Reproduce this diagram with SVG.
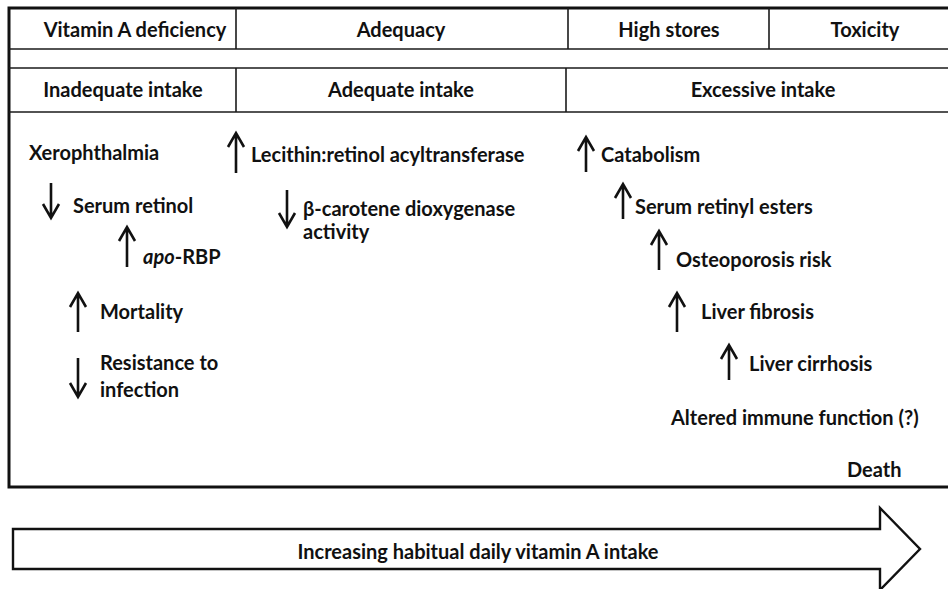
<svg xmlns="http://www.w3.org/2000/svg" width="948" height="589" viewBox="0 0 948 589">
<style>
text{font-family:Lato,"Open Sans","Liberation Sans",sans-serif;font-weight:bold;font-size:20px;fill:#111}
.c{text-anchor:middle}
.ln{stroke:#1a1a1a;stroke-width:1.6;fill:none}
.bx{stroke:#111;stroke-width:3;fill:#fff}
.ar{stroke:#111;stroke-width:2.6;fill:none;stroke-linejoin:miter}
.big{stroke:#111;stroke-width:2.4;fill:#fff;stroke-linejoin:miter}
</style>
<rect width="948" height="589" fill="#fff"/>
<g id="table">
<rect class="bx" x="9" y="8" width="960" height="479"/>
<line class="ln" x1="9" y1="49" x2="948" y2="49"/>
<line class="ln" x1="9" y1="68" x2="948" y2="68"/>
<line class="ln" x1="9" y1="112" x2="948" y2="112"/>
<line class="ln" x1="236" y1="8" x2="236" y2="49"/>
<line class="ln" x1="568" y1="8" x2="568" y2="49"/>
<line class="ln" x1="769" y1="8" x2="769" y2="49"/>
<line class="ln" x1="236" y1="68" x2="236" y2="112"/>
<line class="ln" x1="566" y1="68" x2="566" y2="112"/>
</g>
<g id="h-deficiency"><text class="c" x="135" y="37">Vitamin A deficiency</text></g>
<g id="h-adequacy"><text class="c" x="401" y="37">Adequacy</text></g>
<g id="h-highstores"><text class="c" x="669" y="37">High stores</text></g>
<g id="h-toxicity"><text class="c" x="865" y="37">Toxicity</text></g>
<g id="h-inadequate"><text class="c" x="123" y="97">Inadequate intake</text></g>
<g id="h-adequate"><text class="c" x="401" y="97">Adequate intake</text></g>
<g id="h-excessive"><text class="c" x="763" y="97">Excessive intake</text></g>
<g id="xerophthalmia"><text x="29" y="160">Xerophthalmia</text></g>
<g id="serum-retinol">
<path class="ar" d="M51 183V218M43 204L51 218L59 204"/>
<text x="73" y="213">Serum retinol</text>
</g>
<g id="apo-rbp">
<path class="ar" d="M127 267V227M119 241L127 227L135 241"/>
<text x="143" y="264"><tspan font-style="italic">apo</tspan>-RBP</text>
</g>
<g id="mortality">
<path class="ar" d="M78 332V293M70 307L78 293L86 307"/>
<text x="100" y="319">Mortality</text>
</g>
<g id="resistance">
<path class="ar" d="M78 358V397M70 383L78 397L86 383"/>
<text x="100" y="370">Resistance to</text>
<text x="100" y="397">infection</text>
</g>
<g id="lrat">
<path class="ar" d="M236 173V133M228 147L236 133L244 147"/>
<text x="251" y="162">Lecithin:retinol acyltransferase</text>
</g>
<g id="bcd">
<path class="ar" d="M287 190V227M279 213L287 227L295 213"/>
<text x="303" y="216">β-carotene dioxygenase</text>
<text x="303" y="239">activity</text>
</g>
<g id="catabolism">
<path class="ar" d="M586 172V137M578 151L586 137L594 151"/>
<text x="601" y="162">Catabolism</text>
</g>
<g id="retinyl-esters">
<path class="ar" d="M623 219V184M615 198L623 184L631 198"/>
<text x="635" y="214">Serum retinyl esters</text>
</g>
<g id="osteoporosis">
<path class="ar" d="M659 270V231M651 245L659 231L667 245"/>
<text x="676" y="267">Osteoporosis risk</text>
</g>
<g id="fibrosis">
<path class="ar" d="M677 332V293M669 307L677 293L685 307"/>
<text x="701" y="319">Liver fibrosis</text>
</g>
<g id="cirrhosis">
<path class="ar" d="M729 380V345M721 359L729 345L737 359"/>
<text x="749" y="371">Liver cirrhosis</text>
</g>
<g id="immune"><text x="671" y="425">Altered immune function (?)</text></g>
<g id="death"><text x="847" y="477">Death</text></g>
<g id="intake-arrow">
<path class="big" d="M13 529H880V508L920 549L880 590V569H13Z"/>
<text class="c" x="478" y="559">Increasing habitual daily vitamin A intake</text>
</g>
</svg>
